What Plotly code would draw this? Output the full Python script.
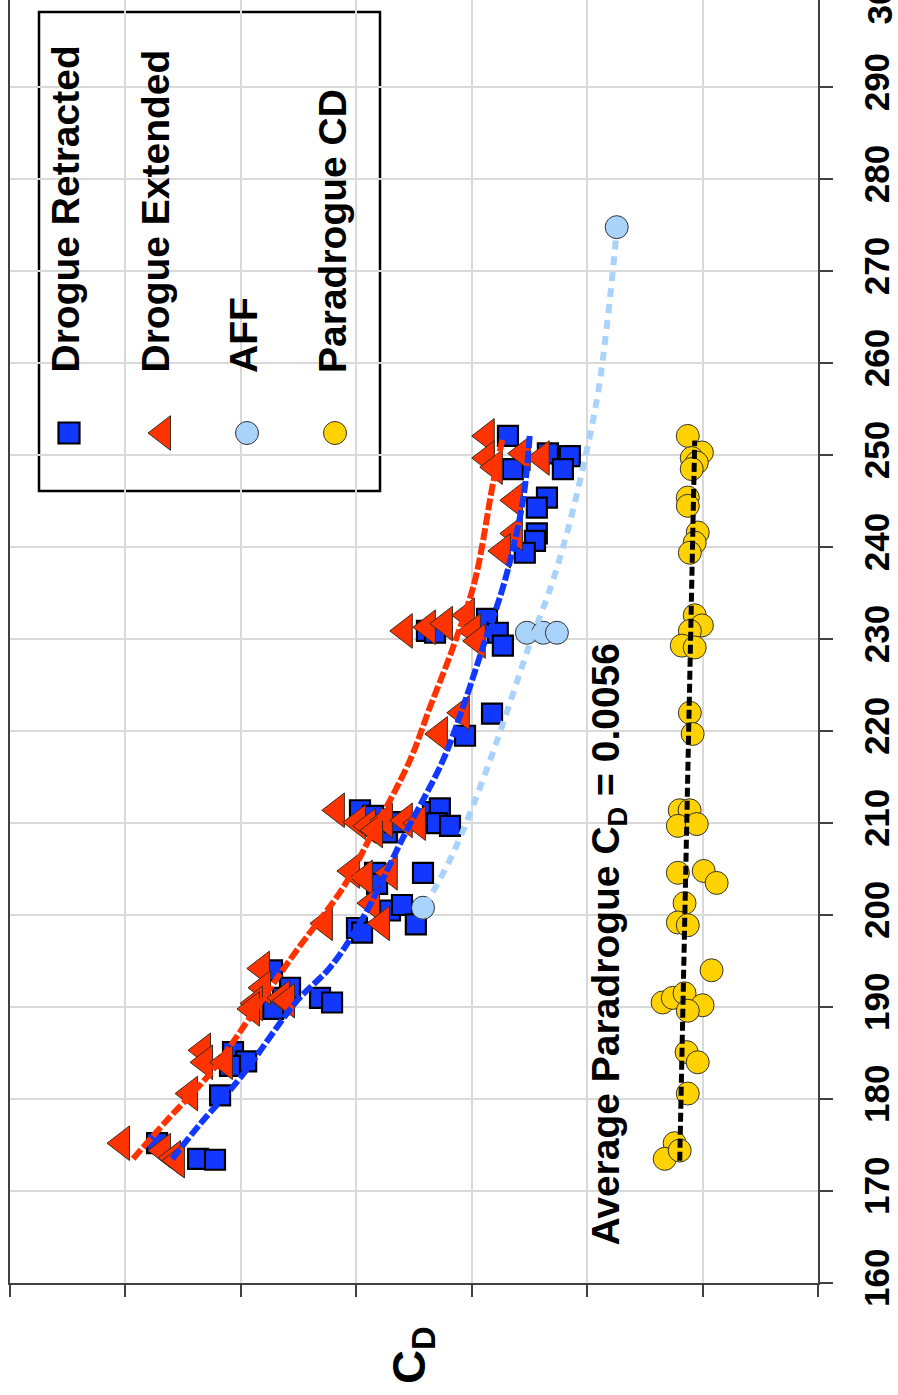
import plotly.graph_objects as go

# ---------------- data ----------------
# Drogue retracted
dr_v = [175.2, 173.5, 173.4, 180.4, 185.1, 184.1, 183.6, 194.0, 192.1, 191.0, 189.8, 191.0, 190.5,
        198.6, 198.1, 200.5, 201.1, 199.0, 204.6, 203.4, 204.6, 211.4, 210.8, 209.0, 210.1, 211.2,
        211.6, 210.0, 209.7, 219.5, 221.9, 230.9, 230.7, 232.2, 230.7, 229.3, 252.1, 250.2, 249.9,
        248.5, 248.5, 245.4, 244.3, 241.5, 240.7, 239.4]
dr_cd = [0.02863, 0.02685, 0.02612, 0.02590, 0.02534, 0.02477, 0.02547, 0.02365, 0.02287, 0.02317,
         0.02360, 0.02157, 0.02105, 0.01997, 0.01975, 0.01854, 0.01802, 0.01742, 0.01919, 0.01910,
         0.01711, 0.01984, 0.01927, 0.01867, 0.01833, 0.01668, 0.01638, 0.01651, 0.01594, 0.01529,
         0.01412, 0.01694, 0.01659, 0.01434, 0.01387, 0.01365, 0.01343, 0.01170, 0.01075, 0.01105,
         0.01322, 0.01174, 0.01218, 0.01218, 0.01226, 0.01270]

# Drogue extended
de_v = [175.2, 174.4, 173.6, 173.3, 180.6, 185.3, 184.0, 184.0, 194.2, 192.1, 190.4, 191.0, 190.7,
        189.8, 211.4, 210.1, 209.7, 210.3, 210.3, 210.0, 209.2, 204.8, 204.1, 204.6, 201.3, 199.1,
        199.1, 230.9, 231.3, 231.7, 232.6, 230.9, 229.8, 222.0, 219.7, 252.1, 249.7, 248.7, 250.2,
        249.7, 245.1, 241.5, 239.6]
de_cd = [0.03015, 0.02837, 0.02794, 0.02777, 0.02720, 0.02664, 0.02655, 0.02569, 0.02409, 0.02404,
         0.02439, 0.02322, 0.02300, 0.02452, 0.02084, 0.01993, 0.01950, 0.01876, 0.01790, 0.01733,
         0.01919, 0.02019, 0.01963, 0.01855, 0.01932, 0.02136, 0.01889, 0.01790, 0.01690, 0.01616,
         0.01521, 0.01495, 0.01474, 0.01543, 0.01638, 0.01435, 0.01435, 0.01400, 0.01279, 0.01197,
         0.01313, 0.01313, 0.01365]

# AFF
aff_v = [200.8, 230.7, 230.7, 230.7, 274.8]
aff_cd = [0.01711, 0.01261, 0.01190, 0.01131, 0.00872]

# Paradrogue
pd_v = [252.1, 250.3, 249.7, 249.2, 248.5, 245.4, 244.5, 241.6, 240.5, 239.4, 232.6, 231.5, 230.9,
        229.3, 229.1, 222.0, 219.7, 211.4, 211.4, 209.7, 209.9, 204.6, 204.8, 203.5, 201.3, 199.2,
        198.9, 194.0, 190.5, 191.0, 191.5, 190.2, 189.6, 185.1, 184.0, 180.6, 175.2, 173.5, 174.4]
pd_cd = [0.00564, 0.00503, 0.00547, 0.00525, 0.00547, 0.00564, 0.00564, 0.00521, 0.00534, 0.00555,
         0.00534, 0.00503, 0.00555, 0.00590, 0.00534, 0.00555, 0.00543, 0.00599, 0.00556, 0.00607,
         0.00525, 0.00607, 0.00495, 0.00439, 0.00578, 0.00607, 0.00564, 0.00461, 0.00673, 0.00629,
         0.00578, 0.00500, 0.00564, 0.00569, 0.00521, 0.00564, 0.00621, 0.00664, 0.00599]

# trend curves
dr_fit_v = [173.5, 177.3, 182.3, 190.7, 194.3, 199.7, 208.4, 216.8, 222.6, 229.1, 236.4, 245.1, 252.4]
dr_fit_cd = [0.02797, 0.02676, 0.02503, 0.02256, 0.02114, 0.01971, 0.01798, 0.01625, 0.01538,
             0.01452, 0.01356, 0.01278, 0.01248]
de_fit_v = [173.5, 177.7, 182.8, 190.0, 196.2, 203.0, 208.4, 216.8, 222.6, 229.1, 236.4, 246.9, 251.9]
de_fit_cd = [0.02967, 0.02820, 0.02633, 0.02430, 0.02257, 0.02057, 0.01941, 0.01768, 0.01681,
             0.01581, 0.01486, 0.01408, 0.01365]
aff_fit_v = [201.0, 206.7, 216.8, 229.5, 236.4, 244.0, 256.0, 264.0, 272.3, 274.8]
aff_fit_cd = [0.01703, 0.01581, 0.01421, 0.01248, 0.01148, 0.01062, 0.00958, 0.00915, 0.00880, 0.00872]
pd_fit_v = [173.3, 251.6]
pd_fit_cd = [0.00599, 0.00534]

PD_MEAN = 0.0056

v_ticks = [160, 170, 180, 190, 200, 210, 220, 230, 240, 250, 260, 270, 280, 290, 300]
cd_ticks = [0.0, 0.005, 0.01, 0.015, 0.02, 0.025, 0.03, 0.035]

legend_names = ["Drogue Retracted", "Drogue Extended", "AFF", "Paradrogue CD"]

# ---------------- layout geometry ----------------
W, H = 898, 1395
ML, MR, MT, MB = 10, 80, 0, 112
PW, PH = W - ML - MR, H - MT - MB
V_RANGE = [160, 299.5]
CD_RANGE = [0.035, 0.0]

FONT = "Arial, 'Liberation Sans', sans-serif"
BLUE = "#1238FF"
RED = "#FF3300"
LIGHT = "#A9D3FB"
GOLD = "#FFD200"
TICK_SIZE = 35
TEXT_SIZE = 39


def px(x):
    return (x - ML) / PW


def py(y):
    return (H - MB - y) / PH


fig = go.Figure()

fig.add_trace(go.Scatter(x=dr_cd, y=dr_v, mode="markers", name=legend_names[0],
                         marker=dict(symbol="square", size=20, color=BLUE, opacity=1,
                                     line=dict(color="black", width=2.2))))
fig.add_trace(go.Scatter(x=de_cd, y=de_v, mode="markers", name=legend_names[1],
                         marker=dict(symbol="triangle-left", size=30, color=RED, opacity=1,
                                     line=dict(color="#3a2a20", width=1))))
fig.add_trace(go.Scatter(x=aff_cd, y=aff_v, mode="markers", name=legend_names[2],
                         marker=dict(symbol="circle", size=23, color=LIGHT, opacity=1,
                                     line=dict(color="#333333", width=1))))
fig.add_trace(go.Scatter(x=pd_cd, y=pd_v, mode="markers", name=legend_names[3],
                         marker=dict(symbol="circle", size=23, color=GOLD, opacity=1,
                                     line=dict(color="#333333", width=1))))

# trend lines on top of the markers
fig.add_trace(go.Scatter(x=dr_fit_cd, y=dr_fit_v, mode="lines", line_shape="spline",
                         line=dict(color=BLUE, width=6, dash="12px,3px")))
fig.add_trace(go.Scatter(x=de_fit_cd, y=de_fit_v, mode="lines", line_shape="spline",
                         line=dict(color=RED, width=6, dash="12px,3px")))
fig.add_trace(go.Scatter(x=aff_fit_cd, y=aff_fit_v, mode="lines", line_shape="spline",
                         line=dict(color=LIGHT, width=6, dash="9px,7px")))
fig.add_trace(go.Scatter(x=pd_fit_cd, y=pd_fit_v, mode="lines",
                         line=dict(color="black", width=5, dash="9px,4px")))

# legend key symbols, drawn on a pixel-scaled overlay
fig.add_trace(go.Scatter(
    x=[69, 163, 247, 335], y=[433, 433, 433, 433], xaxis="x2", yaxis="y2", mode="markers",
    marker=dict(symbol=["square", "triangle-left", "circle", "circle"],
                size=[21, 30, 23, 23], color=[BLUE, RED, LIGHT, GOLD], opacity=1,
                line=dict(color=["black", "#3a2a20", "#333333", "#333333"],
                          width=[2.2, 1, 1, 1]))))

shapes = [dict(type="rect", xref="paper", yref="paper", x0=px(39), x1=px(380),
               y0=py(491), y1=py(12), line=dict(color="black", width=2.5),
               fillcolor="white", layer="below")]

annotations = []
for xc, name in zip([65, 155, 243, 332], legend_names):
    annotations.append(dict(xref="paper", yref="paper", x=px(xc), y=py(375), text=name,
                            textangle=-90, showarrow=False, xanchor="center", yanchor="bottom",
                            font=dict(family=FONT, size=TEXT_SIZE, color="black", weight="bold")))

annotations.append(dict(xref="paper", yref="paper", x=px(608), y=py(1248),
                        text=f"Average Paradrogue C<sub>D</sub> = {PD_MEAN}",
                        textangle=-90, showarrow=False, xanchor="center", yanchor="bottom",
                        font=dict(family=FONT, size=TEXT_SIZE, color="black", weight="bold")))

annotations.append(dict(xref="paper", yref="paper", x=px(412), y=py(1386),
                        text="C<sub>D</sub>", textangle=-90, showarrow=False,
                        xanchor="center", yanchor="bottom",
                        font=dict(family=FONT, size=47, color="black", weight="bold")))

# top tick label that sits just past the end of the axis
annotations.append(dict(xref="paper", yref="paper", x=px(879),
                        y=(v_ticks[-1] - V_RANGE[0]) / (V_RANGE[1] - V_RANGE[0]),
                        text=str(v_ticks[-1]), textangle=-90, showarrow=False,
                        xanchor="center", yanchor="middle",
                        font=dict(family=FONT, size=TICK_SIZE, color="black", weight="bold")))

fig.update_layout(
    width=W, height=H,
    margin=dict(l=ML, r=MR, t=MT, b=MB, pad=0),
    paper_bgcolor="white", plot_bgcolor="white",
    showlegend=False,
    shapes=shapes, annotations=annotations,
    xaxis=dict(range=CD_RANGE, tickvals=cd_ticks, showticklabels=False,
               ticks="outside", ticklen=12, tickwidth=1.5, tickcolor="#404040",
               showgrid=True, gridcolor="#D9D9D9", gridwidth=1.5,
               showline=True, linecolor="#404040", linewidth=2, zeroline=False,
               automargin=False),
    yaxis=dict(range=V_RANGE, tickvals=v_ticks[:-1], side="right",
               ticks="outside", ticklen=13, tickwidth=1.5, tickcolor="#404040",
               tickangle=-90, ticklabelstandoff=14,
               tickfont=dict(family=FONT, size=TICK_SIZE, color="black", weight="bold"),
               showgrid=True, gridcolor="#D9D9D9", gridwidth=1.5,
               showline=True, mirror=True, linecolor="#404040", linewidth=2,
               zeroline=False, automargin=False),
    xaxis2=dict(range=[ML, W - MR], overlaying="x", visible=False, fixedrange=True),
    yaxis2=dict(range=[H - MB, MT], overlaying="y", visible=False, fixedrange=True),
)

fig.write_html("out.html")
